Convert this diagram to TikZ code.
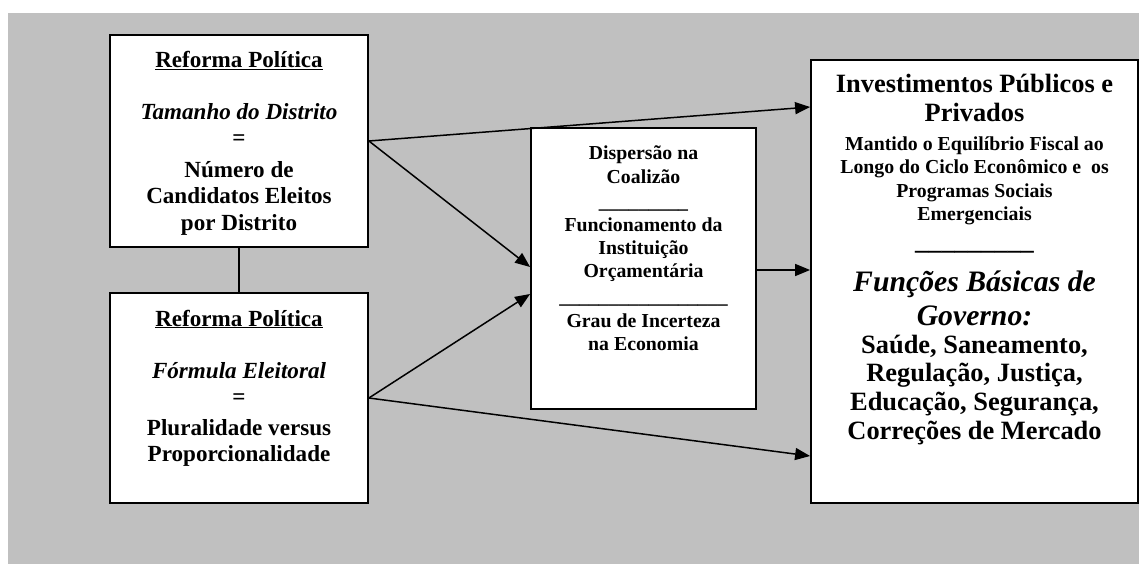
\documentclass[tikz,border=0pt]{standalone}
\usepackage{fontspec}
\setmainfont{Liberation Serif}
\usetikzlibrary{arrows.meta}
\definecolor{bggray}{HTML}{C0C0C0}
\begin{document}
\begin{tikzpicture}[x=1pt,y=-1pt,
  box/.style={draw=black, line width=1.8pt, fill=white, rectangle, inner sep=0pt},
  conn/.style={line width=1.5pt, black},
  arr/.style={conn, -{Triangle[length=15pt,width=12pt]}},
  sA/.style={anchor=base, inner sep=0pt, font=\fontsize{19.8pt}{22.8pt}\selectfont\bfseries},
  sB/.style={anchor=base, inner sep=0pt, font=\fontsize{23.1pt}{26.6pt}\selectfont\bfseries},
  sBi/.style={anchor=base, inner sep=0pt, font=\fontsize{23.1pt}{26.6pt}\selectfont\bfseries\itshape},
  sC/.style={anchor=base, inner sep=0pt, font=\fontsize{26.4pt}{30.4pt}\selectfont\bfseries},
  sDi/.style={anchor=base, inner sep=0pt, font=\fontsize{29.7pt}{34.2pt}\selectfont\bfseries\itshape}
]
\useasboundingbox (0,0) rectangle (1139,564);
\fill[bggray] (8,13) rectangle (1139,564);

% boxes
\node[box, minimum width=258pt, minimum height=212pt] (b1) at (239,141) {};
\node[box, minimum width=258pt, minimum height=210pt] (b2) at (239,398) {};
\node[box, minimum width=225pt, minimum height=281pt] (b3) at (643.5,268.5) {};
\node[box, minimum width=327pt, minimum height=443pt] (b4) at (974.5,281.5) {};

% connectors
\draw[conn] (b1.south) -- (b2.north);
\draw[arr] (b1.east) -- ([yshift=174.5pt]b4.west);
\draw[arr] (b1.east) -- ([yshift=1.5pt]b3.west);
\draw[arr] (b2.east) -- ([yshift=-25.5pt]b3.west);
\draw[arr] (b2.east) -- ([yshift=-174.5pt]b4.west);
\draw[arr] ([yshift=-1.5pt]b3.east) -- ([yshift=-1.5pt]b3.east -| b4.west);

% box 1 text
\node[sB] (t1a) at (239,68) {\underline{Reforma Política}};
\node[sBi] (t1b) at (239,120) {Tamanho do Distrito};
\node[sB] (t1c) at (239,146) {=};
\node[sB] (t1d) at (239,177) {Número de};
\node[sB] (t1e) at (239,203) {Candidatos Eleitos};
\node[sB] (t1f) at (239,230) {por Distrito};

% box 2 text
\node[sB] (t2a) at (239,326) {\underline{Reforma Política}};
\node[sBi] (t2b) at (239,378) {Fórmula Eleitoral};
\node[sB] (t2c) at (239,404) {=};
\node[sB] (t2d) at (239,435) {Pluralidade versus};
\node[sB] (t2e) at (239,461) {Proporcionalidade};

% box 3 text
\node[sA] (t3a) at (643.5,160) {Dispersão na};
\node[sA] (t3b) at (643.5,183) {Coalizão};
\node[sA] (t3c) at (643.5,208) {\_\_\_\_\_\_\_\_\_};
\node[sA] (t3d) at (643.5,231) {Funcionamento da};
\node[sA] (t3e) at (643.5,254) {Instituição};
\node[sA] (t3f) at (643.5,277) {Orçamentária};
\node[sA] (t3g) at (643.5,303) {\_\_\_\_\_\_\_\_\_\_\_\_\_\_\_\_\_};
\node[sA] (t3h) at (643.5,327) {Grau de Incerteza};
\node[sA] (t3i) at (643.5,350) {na Economia};

% box 4 text
\node[sC] (t4a) at (974.5,93) {Investimentos Públicos e};
\node[sC] (t4b) at (974.5,122) {Privados};
\node[sA] (t4c) at (974.5,150) {Mantido o Equilíbrio Fiscal ao};
\node[sA] (t4d) at (974.5,173) {Longo do Ciclo Econômico e\ \ os};
\node[sA] (t4e) at (974.5,197) {Programas Sociais};
\node[sA] (t4f) at (974.5,220) {Emergenciais};
\node[sC] (t4g) at (974.5,249) {\_\_\_\_\_\_\_\_\_};
\node[sDi] (t4h) at (974.5,291) {Funções Básicas de};
\node[sDi] (t4i) at (974.5,325) {Governo:};
\node[sC] (t4j) at (974.5,353) {Saúde, Saneamento,};
\node[sC] (t4k) at (974.5,381) {Regulação, Justiça,};
\node[sC] (t4l) at (974.5,410) {Educação, Segurança,};
\node[sC] (t4m) at (974.5,439) {Correções de Mercado};
\end{tikzpicture}
\end{document}
